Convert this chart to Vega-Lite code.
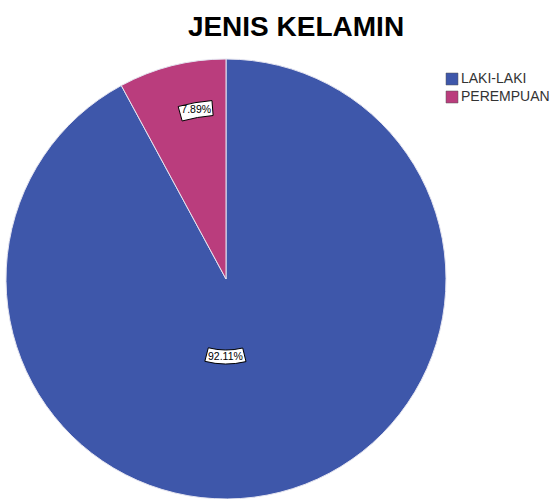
{
  "$schema": "https://vega.github.io/schema/vega-lite/v6.json",
  "width": 440,
  "height": 440,
  "autosize": {"type": "none"},
  "padding": {"left": 6, "top": 59, "right": 109, "bottom": 0},
  "background": "white",
  "config": {"view": {"stroke": null}, "font": "Liberation Sans"},
  "title": {
    "text": "JENIS KELAMIN",
    "font": "Liberation Sans",
    "fontSize": 28,
    "fontWeight": "bold",
    "color": "#000000",
    "anchor": "middle",
    "frame": "group",
    "dx": 70,
    "dy": 29,
    "offset": 22,
    "baseline": "alphabetic"
  },
  "data": {
    "values": [
      {"jenis": "LAKI-LAKI", "n": 35, "label": "92.11%"},
      {"jenis": "PEREMPUAN", "n": 3, "label": "7.89%"}
    ]
  },
  "transform": [
    {"stack": "n", "groupby": [], "sort": [{"field": "jenis", "order": "ascending"}], "as": ["v0", "v1"]}
  ],
  "layer": [
    {
      "mark": {"type": "arc", "stroke": "#e4e4f0", "strokeWidth": 1},
      "encoding": {
        "theta": {"field": "v0", "type": "quantitative", "scale": {"domain": [0, 38]}},
        "theta2": {"field": "v1"},
        "color": {
          "field": "jenis",
          "type": "nominal",
          "scale": {"domain": ["LAKI-LAKI", "PEREMPUAN"], "range": ["#3E57AA", "#BA3D7D"]},
          "legend": {
            "title": null,
            "orient": "none",
            "legendX": 439,
            "legendY": 13,
            "symbolType": "square",
            "symbolSize": 144,
            "symbolStrokeWidth": 0.5,
            "symbolStrokeColor": "#555555",
            "labelFont": "Liberation Sans",
            "labelFontSize": 14,
            "labelColor": "#333333",
            "labelOffset": 2,
            "rowPadding": 4
          }
        }
      }
    },
    {
      "transform": [{"filter": "datum.jenis === 'LAKI-LAKI'"}],
      "mark": {"type": "arc", "fill": "white", "stroke": "black", "strokeWidth": 1, "radius": 71, "radius2": 85, "thetaOffset": 2.904, "theta2Offset": -2.394},
      "encoding": {
        "theta": {"field": "v0", "type": "quantitative", "scale": {"domain": [0, 38]}},
        "theta2": {"field": "v1"}
      }
    },
    {
      "transform": [{"filter": "datum.jenis === 'PEREMPUAN'"}],
      "mark": {"type": "arc", "fill": "white", "stroke": "black", "strokeWidth": 1, "radius": 164, "radius2": 179, "thetaOffset": 0.2255, "theta2Offset": -0.0785},
      "encoding": {
        "theta": {"field": "v0", "type": "quantitative", "scale": {"domain": [0, 38]}},
        "theta2": {"field": "v1"}
      }
    },
    {
      "transform": [{"filter": "datum.jenis === 'LAKI-LAKI'"}],
      "mark": {"type": "text", "radius": 78, "thetaOffset": 3.149, "font": "Liberation Sans", "fontSize": 10.5, "color": "black", "align": "center", "baseline": "middle"},
      "encoding": {
        "theta": {"field": "v0", "type": "quantitative", "scale": {"domain": [0, 38]}},
        "text": {"field": "label"}
      }
    },
    {
      "transform": [{"filter": "datum.jenis === 'PEREMPUAN'"}],
      "mark": {"type": "text", "radius": 171.6, "thetaOffset": 0.3215, "font": "Liberation Sans", "fontSize": 10.5, "color": "black", "align": "center", "baseline": "middle"},
      "encoding": {
        "theta": {"field": "v0", "type": "quantitative", "scale": {"domain": [0, 38]}},
        "text": {"field": "label"}
      }
    }
  ]
}
